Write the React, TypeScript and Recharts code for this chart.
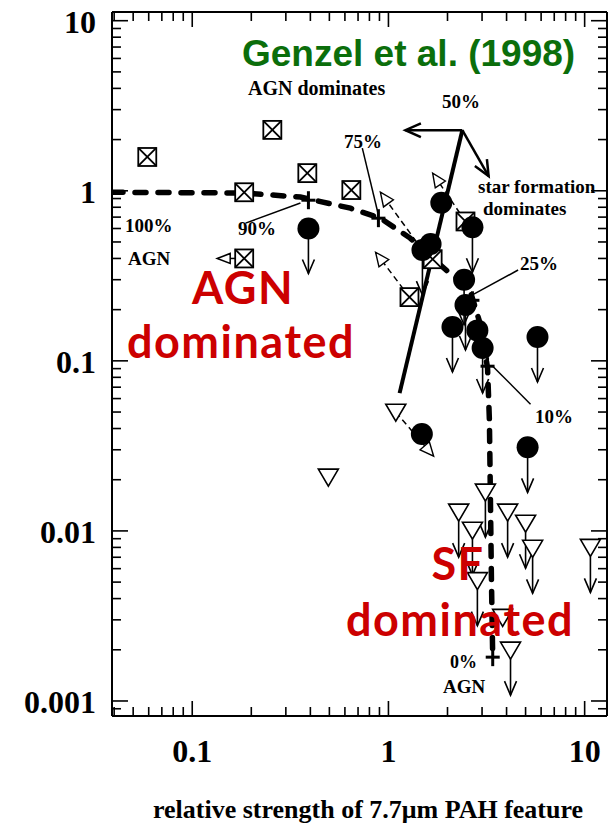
import React from "react";
import { ComposedChart, XAxis, YAxis, Scatter, Line, ReferenceLine } from "recharts";

type Pt = { x: number; y: number; arrow?: boolean; left?: boolean };

// axis ticks
const xMajor = [0.1, 1, 10];
const xTickLabels = ["0.1", "1", "10"];
const xMinor = [0.04, 0.05, 0.06, 0.07, 0.08, 0.09, 0.2, 0.3, 0.4, 0.5, 0.6, 0.7, 0.8, 0.9, 2, 3, 4, 5, 6, 7, 8, 9];
const yMajor = [0.001, 0.01, 0.1, 1, 10];
const yTickLabels = ["0.001", "0.01", "0.1", "1", "10"];
const yMinor = [
  0.0009, 0.002, 0.003, 0.004, 0.005, 0.006, 0.007, 0.008, 0.009, 0.02, 0.03, 0.04, 0.05, 0.06, 0.07, 0.08, 0.09,
  0.2, 0.3, 0.4, 0.5, 0.6, 0.7, 0.8, 0.9, 2, 3, 4, 5, 6, 7, 8, 9,
];
const xTicks = [...xMinor, ...xMajor].sort((a, b) => a - b);
const yTicks = [...yMinor, ...yMajor].sort((a, b) => a - b);

// sources (open squares with cross)
const boxedSources: Pt[] = [
  { x: 0.059, y: 1.58 },
  { x: 0.256, y: 2.28 },
  { x: 0.184, y: 0.98 },
  { x: 0.386, y: 1.27 },
  { x: 0.647, y: 1.01 },
  { x: 0.184, y: 0.4, left: true },
  { x: 1.28, y: 0.237 },
  { x: 1.68, y: 0.396 },
  { x: 2.47, y: 0.66 },
];

// filled circles
const filledSources: Pt[] = [
  { x: 0.391, y: 0.6, arrow: true },
  { x: 1.86, y: 0.85 },
  { x: 2.68, y: 0.61, arrow: true },
  { x: 1.49, y: 0.448, arrow: true },
  { x: 1.64, y: 0.486 },
  { x: 2.43, y: 0.3, arrow: true },
  { x: 2.47, y: 0.213, arrow: true },
  { x: 2.12, y: 0.158, arrow: true },
  { x: 2.84, y: 0.151 },
  { x: 3.02, y: 0.119, arrow: true },
  { x: 5.75, y: 0.138, arrow: true },
  { x: 1.48, y: 0.0371 },
  { x: 5.12, y: 0.031, arrow: true },
];

// open triangles
const openSources: Pt[] = [
  { x: 1.09, y: 0.0499 },
  { x: 0.494, y: 0.0207 },
  { x: 3.12, y: 0.0169, arrow: true },
  { x: 2.28, y: 0.0129, arrow: true },
  { x: 2.68, y: 0.0101, arrow: true },
  { x: 4.05, y: 0.0129, arrow: true },
  { x: 5.0, y: 0.0111, arrow: true },
  { x: 5.43, y: 0.0079, arrow: true },
  { x: 10.7, y: 0.008, arrow: true },
  { x: 2.84, y: 0.0051, arrow: true },
  { x: 3.82, y: 0.0031 },
  { x: 4.19, y: 0.00199, arrow: true },
];

// AGN / starburst mixing curve
const mixX = [0.039, 0.184, 0.356, 0.64, 0.91, 1.29, 2.02, 2.38, 2.62, 2.95, 3.2, 3.27, 3.31, 3.35, 3.4];
const mixY = [0.98, 0.97, 0.918, 0.79, 0.69, 0.527, 0.333, 0.29, 0.254, 0.162, 0.0906, 0.0448, 0.0152, 0.0051, 0.00181];
const mixPctX = [0.391, 0.889, 2.68, 3.2, 3.4];
const mixPctY = [0.88, 0.69, 0.227, 0.093, 0.00181];

const mixCurve = mixX.map((x, i) => ({ x, y: mixY[i] }));
const mixPct = mixPctX.map((x, i) => ({ x, y: mixPctY[i] }));

// solid diagnostic line and its 50% arrows
const diagLine = [{ x: 1.14, y: 0.0646 }, { x: 2.38, y: 2.27 }];
const arrowsFrom50 = [
  [{ x: 2.38, y: 2.27 }, { x: 1.22, y: 2.27 }],
  [{ x: 2.38, y: 2.27 }, { x: 3.24, y: 1.22 }],
];

// dashed shift arrows
const dashedArrows = [
  [{ x: 2.47, y: 0.66 }, { x: 1.68, y: 1.27 }],
  [{ x: 1.49, y: 0.448 }, { x: 0.91, y: 0.98 }],
  [{ x: 1.28, y: 0.237 }, { x: 0.86, y: 0.435 }],
  [{ x: 1.09, y: 0.0499 }, { x: 1.7, y: 0.0275 }],
];

// thin leader lines from percent labels
const leaders = [
  [{ x: 0.187, y: 0.645 }, { x: 0.356, y: 0.847 }],
  [{ x: 0.736, y: 1.78 }, { x: 0.889, y: 0.72 }],
  [{ x: 4.58, y: 0.342 }, { x: 2.68, y: 0.244 }],
  [{ x: 5.3, y: 0.0556 }, { x: 3.4, y: 0.093 }],
];

const W = 612;
const H = 829;
const serif = "'Liberation Serif', 'Times New Roman', serif";

const isMajor = (v: number, majors: number[]) => majors.some((m) => Math.abs(m - v) < m * 1e-6);

const BottomTick = (p: any) => {
  const { x, y, payload } = p;
  const i = xMajor.findIndex((m) => Math.abs(m - payload.value) < m * 1e-6);
  const len = i >= 0 ? 15 : 9;
  return (
    <g>
      <line x1={x} x2={x} y1={y} y2={y - len} stroke="#000" strokeWidth={1.6} />
      {i >= 0 && (
        <text x={x} y={y + 46} textAnchor="middle" fontFamily={serif} fontWeight="bold" fontSize={32} fill="#000">
          {xTickLabels[i]}
        </text>
      )}
    </g>
  );
};

const TopTick = (p: any) => {
  const { x, y, payload } = p;
  const len = isMajor(payload.value, xMajor) ? 15 : 9;
  return <line x1={x} x2={x} y1={y} y2={y + len} stroke="#000" strokeWidth={1.6} />;
};

const LeftTick = (p: any) => {
  const { x, y, payload } = p;
  const i = yMajor.findIndex((m) => Math.abs(m - payload.value) < m * 1e-6);
  const len = i >= 0 ? 16 : 9;
  return (
    <g>
      <line x1={x} x2={x + len} y1={y} y2={y} stroke="#000" strokeWidth={1.6} />
      {i >= 0 && (
        <text x={x - 16} y={y + 12} textAnchor="end" fontFamily={serif} fontWeight="bold" fontSize={32} fill="#000">
          {yTickLabels[i]}
        </text>
      )}
    </g>
  );
};

const RightTick = (p: any) => {
  const { x, y, payload } = p;
  const len = isMajor(payload.value, yMajor) ? 16 : 9;
  return <line x1={x} x2={x - len} y1={y} y2={y} stroke="#000" strokeWidth={1.6} />;
};

const DownArrow = ({ cx, cy, from }: { cx: number; cy: number; from: number }) => (
  <g stroke="#000" strokeWidth={1.6} fill="none">
    <line x1={cx} y1={cy + from} x2={cx} y2={cy + 45} />
    <polyline points={`${cx - 6},${cy + 31} ${cx},${cy + 45} ${cx + 6},${cy + 31}`} />
  </g>
);

const BoxShape = (p: any) => {
  const { cx, cy, payload } = p;
  const h = 9;
  return (
    <g>
      {payload.left && (
        <g stroke="#000" strokeWidth={1.5} fill="#fff">
          <line x1={cx - h} y1={cy} x2={cx - 26} y2={cy} />
          <polygon points={`${cx - 27},${cy} ${cx - 14},${cy - 5} ${cx - 14},${cy + 5}`} />
        </g>
      )}
      <g stroke="#000" strokeWidth={1.8} fill="#fff">
        <rect x={cx - h} y={cy - h} width={2 * h} height={2 * h} />
        <line x1={cx - h} y1={cy - h} x2={cx + h} y2={cy + h} />
        <line x1={cx + h} y1={cy - h} x2={cx - h} y2={cy + h} />
      </g>
    </g>
  );
};

const CircleShape = (p: any) => {
  const { cx, cy, payload } = p;
  return (
    <g>
      {payload.arrow && <DownArrow cx={cx} cy={cy} from={10} />}
      <circle cx={cx} cy={cy} r={11} fill="#000" />
    </g>
  );
};

const TriangleShape = (p: any) => {
  const { cx, cy, payload } = p;
  return (
    <g>
      {payload.arrow && <DownArrow cx={cx} cy={cy} from={9} />}
      <polygon
        points={`${cx - 10},${cy - 8} ${cx + 10},${cy - 8} ${cx},${cy + 9}`}
        fill="#fff"
        stroke="#000"
        strokeWidth={1.6}
      />
    </g>
  );
};

const PlusShape = (p: any) => {
  const { cx, cy } = p;
  return (
    <g stroke="#000" strokeWidth={3}>
      <line x1={cx - 7} x2={cx + 7} y1={cy} y2={cy} />
      <line x1={cx} x2={cx} y1={cy - 9} y2={cy + 9} />
    </g>
  );
};

const Nothing = () => <g />;

type ArrowOpts = { width: number; dash?: string; head: "none" | "open" | "tri"; size: number };

const arrowShape = (o: ArrowOpts) => (p: any) => {
  const { x1, y1, x2, y2 } = p;
  const a = Math.atan2(y2 - y1, x2 - x1);
  const s = o.size;
  const ax = x2 - s * Math.cos(a - 0.42);
  const ay = y2 - s * Math.sin(a - 0.42);
  const bx = x2 - s * Math.cos(a + 0.42);
  const by = y2 - s * Math.sin(a + 0.42);
  return (
    <g>
      <line x1={x1} y1={y1} x2={x2} y2={y2} stroke="#000" strokeWidth={o.width} strokeDasharray={o.dash} />
      {o.head === "open" && (
        <polyline points={`${ax},${ay} ${x2},${y2} ${bx},${by}`} fill="none" stroke="#000" strokeWidth={o.width} />
      )}
      {o.head === "tri" && (
        <polygon points={`${ax},${ay} ${x2},${y2} ${bx},${by}`} fill="#fff" stroke="#000" strokeWidth={1.4} />
      )}
    </g>
  );
};

const labels: { t: string; x: number; y: number; size?: number }[] = [
  { t: "AGN dominates", x: 248, y: 95, size: 20 },
  { t: "50%", x: 442, y: 108 },
  { t: "75%", x: 344, y: 148 },
  { t: "90%", x: 238, y: 235 },
  { t: "100%", x: 125, y: 232 },
  { t: "AGN", x: 128, y: 265 },
  { t: "star formation", x: 478, y: 193 },
  { t: "dominates", x: 483, y: 215 },
  { t: "25%", x: 520, y: 270 },
  { t: "10%", x: 535, y: 423 },
  { t: "0%", x: 450, y: 668, size: 18 },
  { t: "AGN", x: 443, y: 693 },
];

const axisLine = { stroke: "#000", strokeWidth: 2 };

export default function App() {
  return (
    <div style={{ position: "absolute", left: 0, top: 0, width: W, height: H, background: "#fff" }}>
      <ComposedChart width={W} height={H} margin={{ top: 11, right: 4, bottom: 0, left: 0 }}>
        <XAxis
          dataKey="x"
          type="number"
          scale="log"
          domain={[0.039, 13]}
          allowDataOverflow
          ticks={xTicks}
          interval={0}
          tickSize={0}
          tickMargin={0}
          height={113}
          tick={BottomTick}
          axisLine={axisLine}
        />
        <XAxis
          xAxisId="top"
          orientation="top"
          dataKey="x"
          type="number"
          scale="log"
          domain={[0.039, 13]}
          allowDataOverflow
          ticks={xTicks}
          interval={0}
          tickSize={0}
          tickMargin={0}
          height={1}
          tick={TopTick}
          axisLine={axisLine}
        />
        <YAxis
          dataKey="y"
          type="number"
          scale="log"
          domain={[0.000816, 11.25]}
          allowDataOverflow
          ticks={yTicks}
          interval={0}
          tickSize={0}
          tickMargin={0}
          width={112}
          tick={LeftTick}
          axisLine={axisLine}
        />
        <YAxis
          yAxisId="right"
          orientation="right"
          dataKey="y"
          type="number"
          scale="log"
          domain={[0.000816, 11.25]}
          allowDataOverflow
          ticks={yTicks}
          interval={0}
          tickSize={0}
          tickMargin={0}
          width={1}
          tick={RightTick}
          axisLine={axisLine}
        />

        {leaders.map((seg, i) => (
          <ReferenceLine key={`l${i}`} segment={seg} shape={arrowShape({ width: 1.5, head: "none", size: 0 })} />
        ))}
        {dashedArrows.map((seg, i) => (
          <ReferenceLine key={`d${i}`} segment={seg} shape={arrowShape({ width: 1.5, dash: "6 4", head: "tri", size: 15 })} />
        ))}
        <ReferenceLine segment={diagLine} shape={arrowShape({ width: 4, head: "none", size: 0 })} />
        {arrowsFrom50.map((seg, i) => (
          <ReferenceLine key={`a${i}`} segment={seg} shape={arrowShape({ width: 2.5, head: "open", size: 17 })} />
        ))}

        <Line
          data={mixCurve}
          dataKey="y"
          type="linear"
          stroke="#000"
          strokeWidth={5.5}
          strokeDasharray="11 12"
          strokeLinecap="round"
          dot={false}
          isAnimationActive={false}
        />
        <Scatter data={mixPct} shape={PlusShape} isAnimationActive={false} />
        <Scatter data={boxedSources} shape={BoxShape} isAnimationActive={false} />
        <Scatter data={openSources} shape={TriangleShape} isAnimationActive={false} />
        <Scatter data={filledSources} shape={CircleShape} isAnimationActive={false} />
        <Scatter data={mixPct} xAxisId="top" yAxisId="right" shape={Nothing} isAnimationActive={false} />
      </ComposedChart>

      <svg width={W} height={H} style={{ position: "absolute", left: 0, top: 0, pointerEvents: "none" }}>
        <text x={242} y={66} fontFamily="'Liberation Sans', Arial, sans-serif" fontWeight="bold" fontSize={37} fill="#0b6e0b">
          Genzel et al. (1998)
        </text>
        {labels.map((l, i) => (
          <text key={i} x={l.x} y={l.y} fontFamily={serif} fontWeight="bold" fontSize={l.size ?? 19} fill="#000">
            {l.t}
          </text>
        ))}
        <g
          fontFamily="'Comic Sans MS', 'Lato', sans-serif"
          fontWeight="bold"
          fontSize={45}
          letterSpacing={1.5}
          fill="#cc0000"
          textAnchor="middle"
        >
          <text x={243} y={304}>AGN</text>
          <text x={241} y={358}>dominated</text>
          <text x={458} y={580}>SF</text>
          <text x={460} y={636}>dominated</text>
        </g>
        <text x={368} y={818} textAnchor="middle" fontFamily={serif} fontWeight="bold" fontSize={26} fill="#000">
          relative strength of 7.7μm PAH feature
        </text>
      </svg>
    </div>
  );
}
